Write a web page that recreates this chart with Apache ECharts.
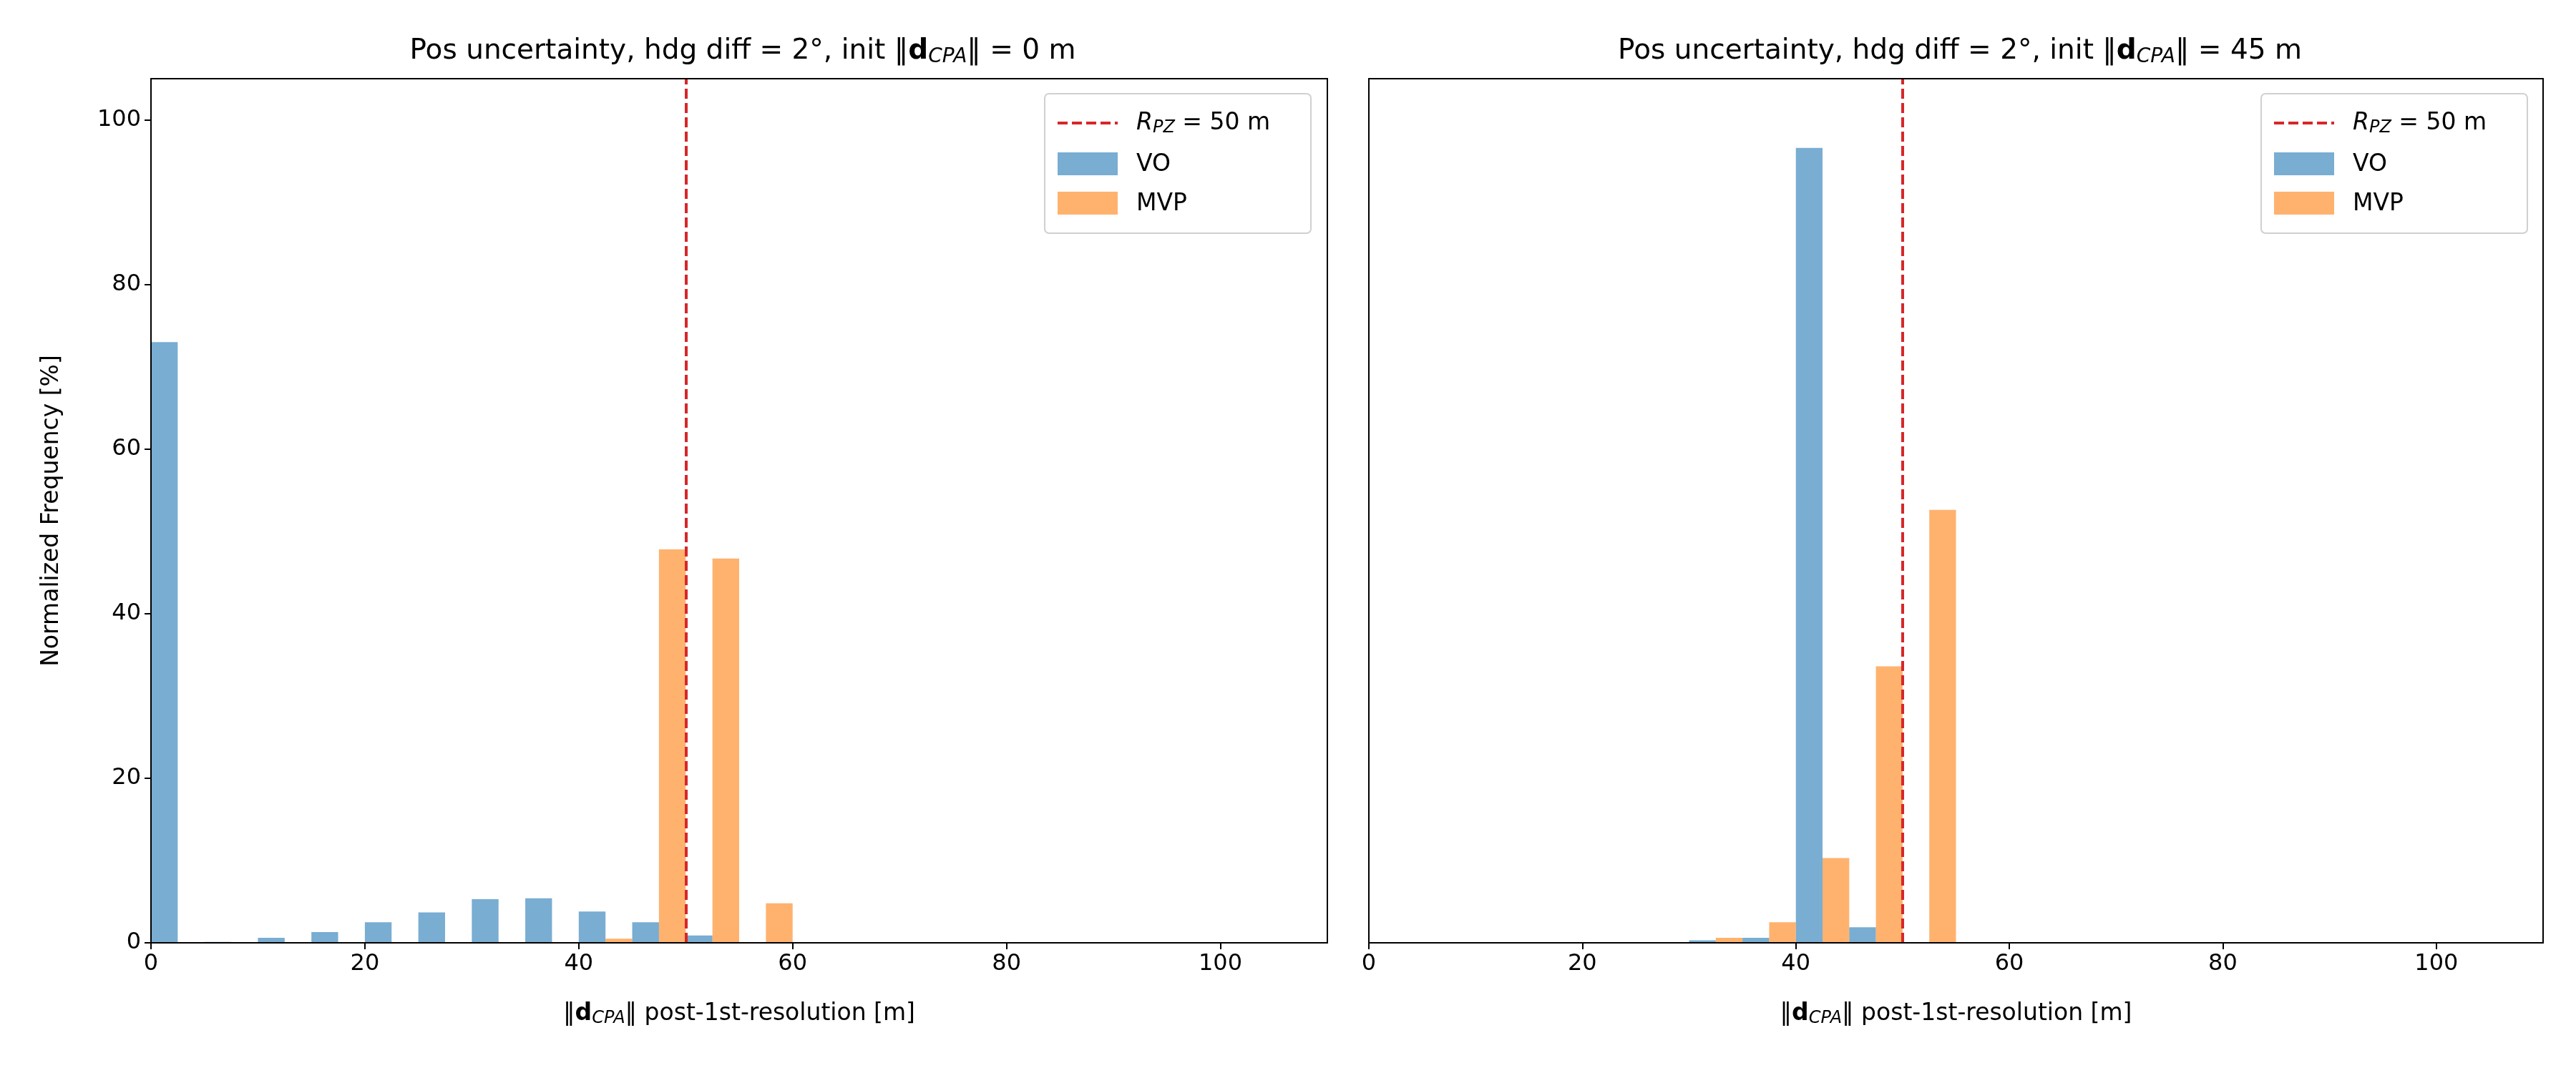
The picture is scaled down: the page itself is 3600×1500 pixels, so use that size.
<!DOCTYPE html>
<html lang="en">
<head>
    <meta charset="UTF-8">
    <title>Pos uncertainty histograms</title>
    <script src="https://cdn.jsdelivr.net/npm/echarts@6/dist/echarts.min.js"></script>
    <style>
        html, body { margin: 0; padding: 0; background: #fff; }
        #main { width: 3600px; height: 1500px; }
    </style>
</head>
<body>
    <div id="main"></div>
    <script>
        // bin start edges (bin width 5 m)
        var binStarts = [0, 5, 10, 15, 20, 25, 30, 35, 40, 45, 50, 55, 60, 65, 70, 75, 80, 85, 90, 95, 100];
        var binWidth = 5;
        // left: init dCPA = 0 m
        var voLeft  = [73.0, 0.1, 0.6, 1.3, 2.5, 3.7, 5.3, 5.4, 3.8, 2.5, 0.9, 0, 0, 0, 0, 0, 0, 0, 0, 0, 0];
        var mvpLeft = [0, 0, 0, 0, 0, 0, 0, 0, 0.5, 47.8, 46.7, 4.8, 0, 0, 0, 0, 0, 0, 0, 0, 0];
        // right: init dCPA = 45 m
        var voRight  = [0, 0, 0, 0, 0, 0.05, 0.3, 0.6, 96.6, 1.9, 0, 0, 0, 0, 0, 0, 0, 0, 0, 0, 0];
        var mvpRight = [0, 0, 0, 0, 0, 0, 0.6, 2.5, 10.3, 33.6, 52.6, 0, 0, 0, 0, 0, 0, 0, 0, 0, 0];
        var xTicks = [0, 20, 40, 60, 80, 100];
        var yTicks = [0, 20, 40, 60, 80, 100];
        var rpz = 50;
        var initDist = [0, 45];

        var blue = 'rgba(31,119,180,0.6)', orange = 'rgba(255,127,14,0.6)';
        var font = 'DejaVu Sans';

        function barData(vals, offset) {
            return binStarts.map(function (b, i) {
                return [b + offset, b + offset + binWidth / 2, vals[i]];
            });
        }

        function makeRender(color) {
            return function (params, api) {
                var p0 = api.coord([api.value(0), api.value(2)]);
                var p1 = api.coord([api.value(1), 0]);
                return {
                    type: 'rect',
                    shape: { x: p0[0], y: p0[1], width: p1[0] - p0[0], height: p1[1] - p0[1] },
                    style: { fill: color }
                };
            };
        }

        var titleRich = {
            b: { fontFamily: font, fontSize: 39, fontWeight: 'bold', color: '#000' },
            s: { fontFamily: font, fontSize: 28, fontStyle: 'italic', fontWeight: 'normal', color: '#000', padding: [16, 0, 0, 0] },
            n: { fontFamily: font, fontSize: 39, fontWeight: 'normal', color: '#000' }
        };
        function titleText(d) {
            return '{n|Pos uncertainty, hdg diff = 2°, init ‖}{b|d}{s|CPA}{n|‖ = ' + d + ' m}';
        }
        var xNameText = '{n|‖}{b|d}{s|CPA}{n|‖ post-1st-resolution [m]}';
        var xRich = {
            b: { fontFamily: font, fontSize: 33, fontWeight: 'bold', color: '#000' },
            s: { fontFamily: font, fontSize: 24, fontStyle: 'italic', color: '#000', padding: [14, 0, 0, 0] },
            n: { fontFamily: font, fontSize: 33, color: '#000' }
        };

        var grids = [
            { left: 211, right: 1745, top: 110, bottom: 182 },
            { left: 1913, right: 46, top: 110, bottom: 182 }
        ];

        function xAxis(i) {
            return {
                type: 'value', gridIndex: i, min: 0, max: 110, interval: 20,
                name: xNameText, nameLocation: 'middle', nameGap: 80,
                nameTextStyle: { rich: xRich },
                axisLine: { onZero: false, lineStyle: { color: '#000', width: 2 } },
                axisTick: { customValues: xTicks, length: 9, lineStyle: { color: '#000', width: 2 } },
                axisLabel: { customValues: xTicks, fontFamily: font, fontSize: 32, color: '#000', margin: 14 },
                splitLine: { show: false }
            };
        }
        function yAxis(i) {
            return {
                type: 'value', gridIndex: i, min: 0, max: 105, interval: 20,
                name: i === 0 ? 'Normalized Frequency [%]' : '', nameLocation: 'middle', nameGap: 122,
                nameTextStyle: { fontFamily: font, fontSize: 33, color: '#000' },
                axisLine: { show: true, lineStyle: { color: '#000', width: 2 } },
                axisTick: { show: i === 0, customValues: yTicks, length: 9, lineStyle: { color: '#000', width: 2 } },
                axisLabel: { show: i === 0, customValues: yTicks, fontFamily: font, fontSize: 32, color: '#000', margin: 14 },
                splitLine: { show: false }
            };
        }

        var series = [];
        [[voLeft, mvpLeft], [voRight, mvpRight]].forEach(function (pair, i) {
            series.push({
                type: 'custom', xAxisIndex: i, yAxisIndex: i, renderItem: makeRender(blue),
                data: barData(pair[0], 0), encode: { x: [0, 1], y: 2 }
            });
            series.push({
                type: 'custom', xAxisIndex: i, yAxisIndex: i, renderItem: makeRender(orange),
                data: barData(pair[1], binWidth / 2), encode: { x: [0, 1], y: 2 },
                markLine: {
                    silent: true, symbol: 'none', label: { show: false },
                    lineStyle: { color: '#d62728', type: [14, 6], width: 4, opacity: 1 },
                    data: [{ xAxis: rpz }]
                }
            });
        });

        function legend(x) {
            var y = 131;
            var rich = {
                r: { fontFamily: font, fontSize: 33, fontStyle: 'italic', color: '#000' },
                s: { fontFamily: font, fontSize: 24, fontStyle: 'italic', color: '#000', padding: [14, 0, 0, 0] },
                n: { fontFamily: font, fontSize: 33, color: '#000' }
            };
            return [
                { type: 'rect', shape: { x: x, y: y, width: 372, height: 195, r: 6 },
                  style: { fill: 'rgba(255,255,255,0.8)', stroke: '#d0d0d0', lineWidth: 2 } },
                { type: 'line', shape: { x1: x + 18, y1: y + 41, x2: x + 102, y2: y + 41 },
                  style: { stroke: '#d62728', lineWidth: 4, lineDash: [14, 6] } },
                { type: 'text', x: x + 128, y: y + 41,
                  style: { text: '{r|R}{s|PZ}{n| = 50 m}', rich: rich, verticalAlign: 'middle' } },
                { type: 'rect', shape: { x: x + 18, y: y + 82, width: 84, height: 32 },
                  style: { fill: blue } },
                { type: 'text', x: x + 128, y: y + 99,
                  style: { text: 'VO', fontFamily: font, fontSize: 33, fill: '#000', verticalAlign: 'middle' } },
                { type: 'rect', shape: { x: x + 18, y: y + 137, width: 84, height: 32 },
                  style: { fill: orange } },
                { type: 'text', x: x + 128, y: y + 154,
                  style: { text: 'MVP', fontFamily: font, fontSize: 33, fill: '#000', verticalAlign: 'middle' } }
            ];
        }

        var myChart = echarts.init(document.getElementById('main'));
        myChart.setOption({
            backgroundColor: '#fff',
            animation: false,
            title: [
                { text: titleText(initDist[0]), left: 1033, top: 45, textAlign: 'center', textStyle: { fontWeight: 'normal', rich: titleRich } },
                { text: titleText(initDist[1]), left: 2734, top: 45, textAlign: 'center', textStyle: { fontWeight: 'normal', rich: titleRich } }
            ],
            grid: grids,
            xAxis: [xAxis(0), xAxis(1)],
            yAxis: [yAxis(0), yAxis(1)],
            series: series,
            graphic: [
                { type: 'rect', z: 10, silent: true, shape: { x: 211, y: 110, width: 1644, height: 1208 }, style: { fill: 'none', stroke: '#000', lineWidth: 2 } },
                { type: 'rect', z: 10, silent: true, shape: { x: 1913, y: 110, width: 1641, height: 1208 }, style: { fill: 'none', stroke: '#000', lineWidth: 2 } }
            ].concat(legend(1460)).concat(legend(3160))
        });
    </script>
</body>
</html>
